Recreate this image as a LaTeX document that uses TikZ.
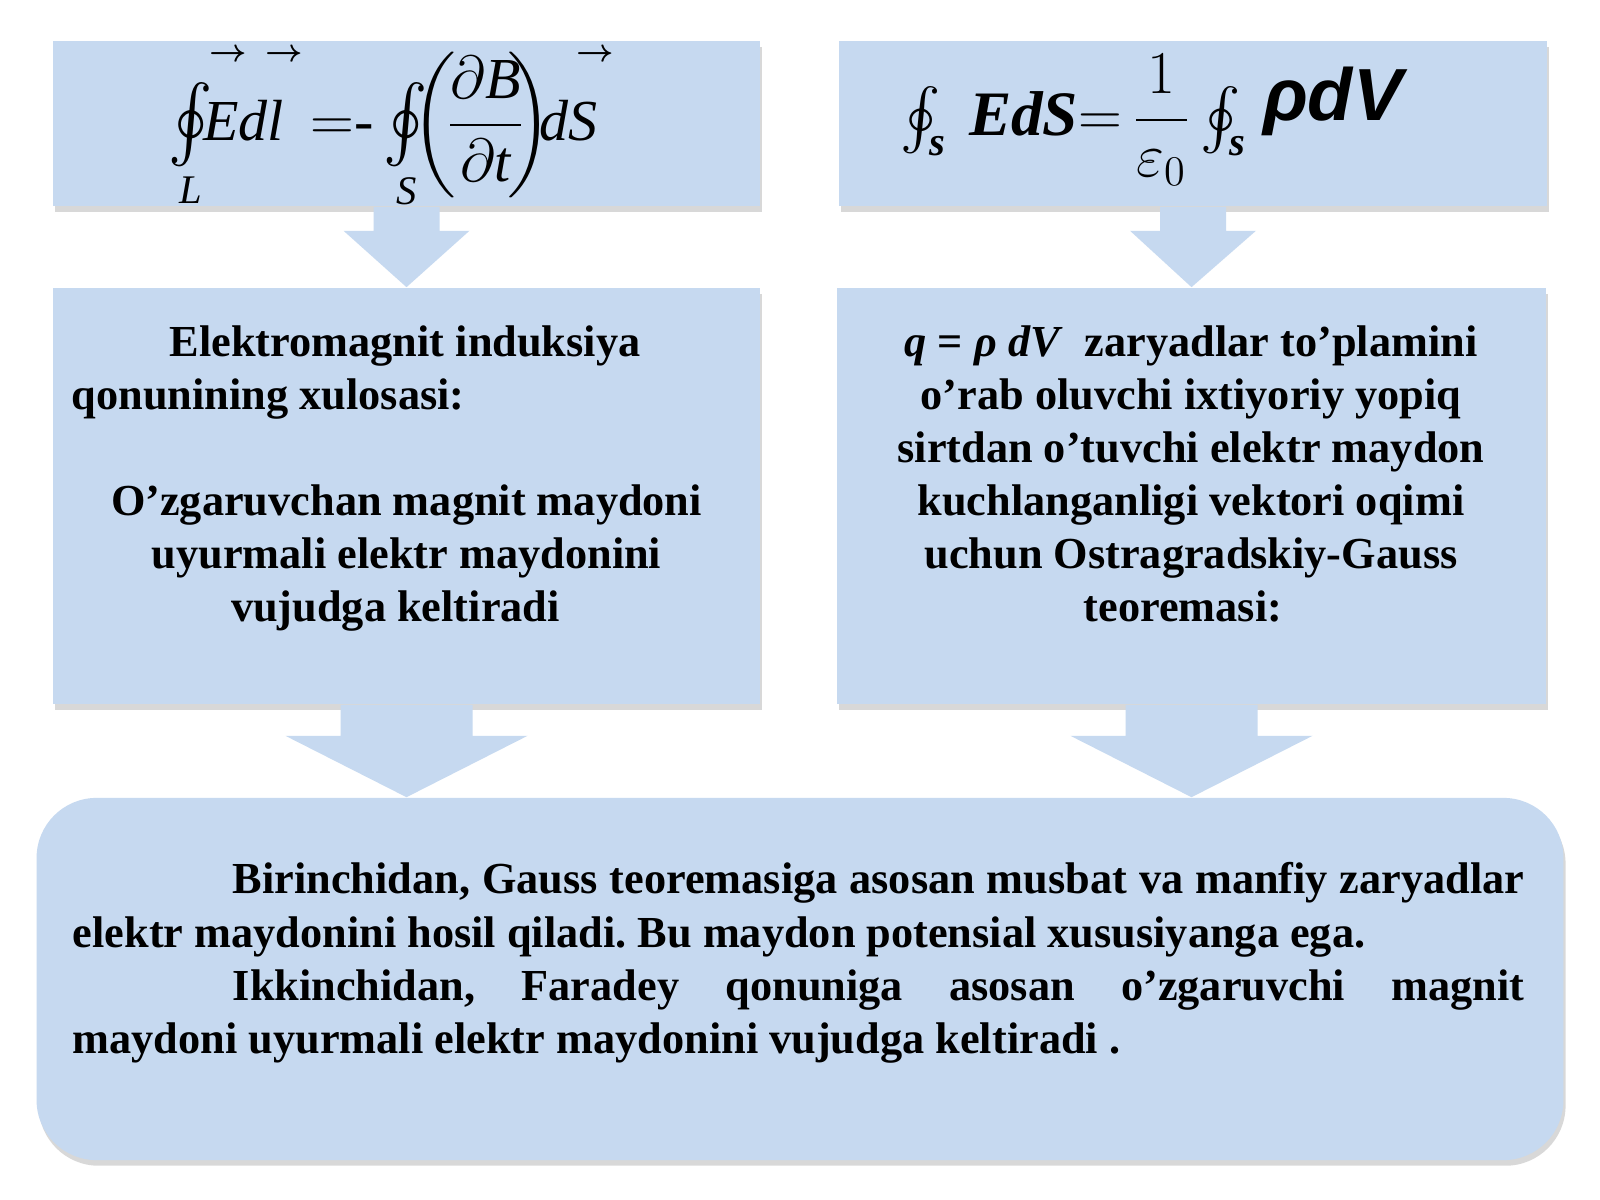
\documentclass[tikz,border=0pt]{standalone}
\usepackage{amsmath}
\usepackage{graphicx}
\usepackage{fontspec}
\setmainfont{Liberation Serif}
\setsansfont{Liberation Sans}
\usetikzlibrary{shadows, calc}
\definecolor{boxblue}{RGB}{198,217,240}
\tikzset{
	panel/.style={rectangle, fill=boxblue, inner sep=0pt,
		drop shadow={shadow xshift=0.6pt, shadow yshift=-1.6pt, opacity=0.3}},
	bodytext/.style={inner sep=0pt, font=\bfseries\fontsize{12.6}{15.1}\selectfont},
	formula/.style={inner sep=0pt, font=\fontsize{16.5}{20}\selectfont},
	vecmark/.style={inner sep=0pt, font=\fontsize{9}{11}\selectfont},
	blockarrow/.style={fill=boxblue},
}
% from, to, shaft half width, head half width, neck length
\newcommand{\flowarrow}[5]{%
	\fill[blockarrow] ($(#1)+(-#3,0)$) -- ($(#1)+(-#3,#5)$) -- ($(#1)+(-#4,#5)$)
	-- (#2) -- ($(#1)+(#4,#5)$) -- ($(#1)+(#3,#5)$) -- ($(#1)+(#3,0)$) -- cycle;}
\newcommand{\tallint}{\mathop{\vcenter{\hbox{\scalebox{1.1}[1.25]{$\oint$}}}}}

\begin{document}
\begin{tikzpicture}[x=0.01cm, y=-0.01cm]
			\path[fill=white] (0,0) rectangle (1600,1200);
			
			%% bloklar
			\node[panel, minimum width=7.07cm, minimum height=1.65cm] (eqL) at (406.5,123.5) {};
			\node[panel, minimum width=7.08cm, minimum height=1.65cm] (eqR) at (1193,123.5) {};
			\node[panel, minimum width=7.07cm, minimum height=4.16cm] (txtL) at (406.5,496) {};
			\node[panel, minimum width=7.09cm, minimum height=4.16cm] (txtR) at (1191.5,496) {};
			\node[panel, rounded corners=0.6cm, minimum width=15.26cm,
			minimum height=3.62cm] (sum) at (800,979) {};
			
			%% strelkalar
			\flowarrow{eqL.south}{txtL.north}{33}{63}{24}
			\flowarrow{eqR.south}{txtR.north}{33}{63}{24}
			\flowarrow{txtL.south}{txtL.south |- sum.north}{66}{121}{31}
			\flowarrow{txtR.south}{txtR.south |- sum.north}{66}{121}{31}
			
			%% Faradey
			\node[formula, anchor=base west] (faraday) at (168,140) {$\tallint\limits_{\textit{L}}\mkern-6mu\textit{Edl}\hspace{0.27cm}{=}\textrm{-}\tallint\limits_{\textit{S}}\mkern-5mu\biggl(\mkern-3mu\dfrac{\partial\textit{B}}{\partial\textit{t}}\mkern-5mu\biggr)\mkern-4mu\textit{dS}$};
			\node[vecmark] (vecE) at (228,55) {$\boldsymbol{\rightarrow}$};
			\node[vecmark] (vecl) at (284,55) {$\boldsymbol{\rightarrow}$};
			\node[vecmark] (vecS) at (595,55) {$\boldsymbol{\rightarrow}$};
			
			%% Gauss
			\node[formula, anchor=base west] (gauss) at (900,135) {$\oint_{\textbf{\textit{s}}}\hspace{0.12cm}\textbf{\textit{\fontsize{18}{20}\selectfont EdS}}{=}\,\dfrac{1}{\varepsilon_0}\oint_{\textbf{\textit{s}}}\hspace{0.06cm}\raisebox{4pt}{\sffamily\bfseries\itshape\fontsize{21}{24}\selectfont ρdV}$};
			
			%% matnlar
			\node[bodytext, anchor=north west, align=left] (lawtitle) at (71,325)
			{\hspace*{0.98cm}Elektromagnit induksiya\\qonunining xulosasi:};
			\node[bodytext, anchor=north, align=center] (lawbody) at (406.5,484)
			{O’zgaruvchan magnit maydoni\\uyurmali elektr maydonini\\vujudga keltiradi\hspace*{0.22cm}};
			\node[bodytext, anchor=north, align=center] (gausstext) at (1191,325)
			{\textit{q} = \textit{ρ dV}\ \ zaryadlar to’plamini\\o’rab oluvchi ixtiyoriy yopiq\\
				sirtdan o’tuvchi elektr maydon\\kuchlanganligi vektori oqimi\\
				uchun Ostragradskiy-Gauss\\teoremasi:\hspace*{0.16cm}};
			\node[bodytext, anchor=north west, text width=14.51cm, align=justify] (summary) at (72,862)
			{\frenchspacing\hspace*{1.6cm}Birinchidan, Gauss teoremasiga asosan musbat va manfiy zaryadlar\linebreak
				elektr maydonini hosil qiladi. Bu maydon potensial xususiyanga ega.\\
				\hspace*{1.6cm}Ikkinchidan, Faradey qonuniga asosan o’zgaruvchi magnit\linebreak
				maydoni uyurmali elektr maydonini vujudga keltiradi .};
		\end{tikzpicture}
\end{document}
